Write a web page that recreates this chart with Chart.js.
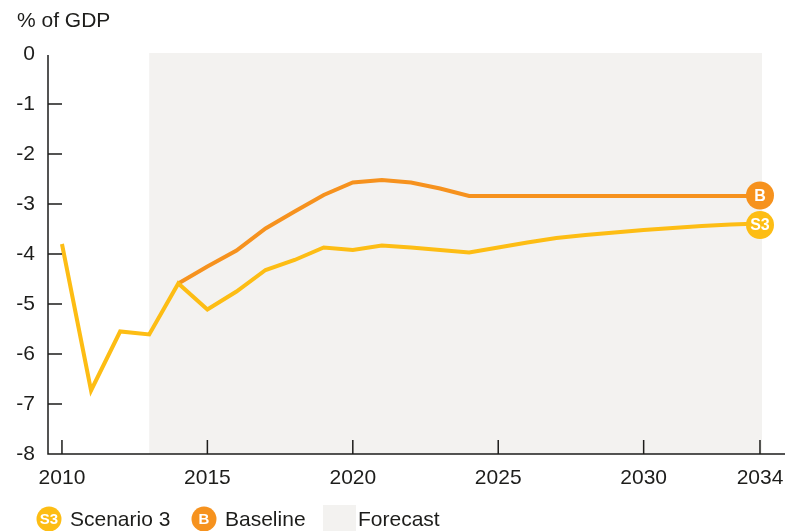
<!DOCTYPE html>
<html>
<head>
<meta charset="utf-8">
<script src="https://cdn.jsdelivr.net/npm/chart.js@4/dist/chart.umd.min.js"></script>
<style>
  body { margin: 0; background: #fff; }
  canvas { display: block; }
</style>
</head>
<body>
<canvas id="gdp-chart" width="785" height="531"></canvas>
<script>
// values (% of GDP)
const years = [2010, 2011, 2012, 2013, 2014, 2015, 2016, 2017, 2018, 2019, 2020, 2021, 2022,
               2023, 2024, 2025, 2026, 2027, 2028, 2029, 2030, 2031, 2032, 2033, 2034];
const scenario3 = [-3.80, -6.73, -5.55, -5.61, -4.59, -5.11, -4.75, -4.32, -4.12, -3.87, -3.92, -3.83, -3.87,
                   -3.92, -3.97, -3.87, -3.77, -3.68, -3.62, -3.57, -3.52, -3.48, -3.44, -3.41, -3.39];
const baseline = [null, null, null, null, -4.59, -4.25, -3.93, -3.49, -3.15, -2.82, -2.57, -2.52, -2.57,
                  -2.69, -2.84, -2.84, -2.84, -2.84, -2.84, -2.84, -2.84, -2.84, -2.84, -2.84, -2.84];
const xTicks = [2010, 2015, 2020, 2025, 2030, 2034];
const forecastStart = 2013;
const forecastEnd = 2034;

const yellow = '#FDBD14';
const orange = '#F6921E';
const shade = '#F3F2F0';
const ink = '#1d1d1b';
const fontFam = '"Liberation Sans", Arial, sans-serif';

function badge(ctx, x, y, r, color, text, size) {
    ctx.beginPath();
    ctx.arc(x, y, r, 0, Math.PI * 2);
    ctx.fillStyle = color;
    ctx.fill();
    ctx.fillStyle = '#fff';
    ctx.font = 'bold ' + size + 'px ' + fontFam;
    ctx.textAlign = 'center';
    ctx.textBaseline = 'middle';
    ctx.fillText(text, x, y + 1);
}

const decor = {
    id: 'decor',
    beforeDatasetsDraw(chart) {
        const ctx = chart.ctx, xs = chart.scales.x, a = chart.chartArea;
        ctx.save();
        ctx.fillStyle = shade;
        const x0 = xs.getPixelForValue(forecastStart), x1 = xs.getPixelForValue(forecastEnd);
        ctx.fillRect(x0, a.top - 1, x1 - x0 + 2, a.bottom - a.top + 1);
        ctx.restore();
    },
    afterDatasetsDraw(chart) {
        const ctx = chart.ctx, xs = chart.scales.x, ys = chart.scales.y, a = chart.chartArea;
        ctx.save();
        ctx.strokeStyle = ink;
        ctx.lineWidth = 1.5;
        ctx.beginPath();
        ctx.moveTo(a.left, a.top + 1);
        ctx.lineTo(a.left, a.bottom);
        ctx.lineTo(chart.width, a.bottom);
        for (let v = -7; v <= -1; v++) {
            const y = ys.getPixelForValue(v);
            ctx.moveTo(a.left, y);
            ctx.lineTo(a.left + 14, y);
        }
        xTicks.forEach(v => {
            const x = xs.getPixelForValue(v);
            ctx.moveTo(x, a.bottom);
            ctx.lineTo(x, a.bottom - 14);
        });
        ctx.stroke();

        // end-of-line badges
        const mb = chart.getDatasetMeta(1).data, ms = chart.getDatasetMeta(0).data;
        const pb = mb[mb.length - 1], ps = ms[ms.length - 1];
        badge(ctx, pb.x, pb.y - 0.5, 14, orange, 'B', 16);
        badge(ctx, ps.x, ps.y + 1.5, 14, yellow, 'S3', 16);

        // title
        ctx.fillStyle = ink;
        ctx.font = '21px ' + fontFam;
        ctx.textAlign = 'left';
        ctx.textBaseline = 'middle';
        ctx.fillText('% of GDP', 17, 21);

        // legend
        const ly = 519;
        badge(ctx, 49, ly, 12.5, yellow, 'S3', 15);
        ctx.fillStyle = ink;
        ctx.font = '21px ' + fontFam;
        ctx.textAlign = 'left';
        ctx.textBaseline = 'middle';
        ctx.fillText('Scenario 3', 70, ly + 1);
        badge(ctx, 204, ly, 12.5, orange, 'B', 15);
        ctx.fillStyle = ink;
        ctx.font = '21px ' + fontFam;
        ctx.textAlign = 'left';
        ctx.fillText('Baseline', 225, ly + 1);
        ctx.fillStyle = shade;
        ctx.fillRect(323, 505, 33, 26);
        ctx.fillStyle = ink;
        ctx.fillText('Forecast', 358, ly + 1);
        ctx.restore();
    }
};

const ctx = document.getElementById('gdp-chart').getContext('2d');
const chart = new Chart(ctx, {
    type: 'line',
    data: {
        labels: years,
        datasets: [{
            label: 'Scenario 3',
            data: years.map((y, i) => ({ x: y, y: scenario3[i] })),
            borderColor: yellow,
            borderWidth: 4,
            pointRadius: 0,
            tension: 0
        }, {
            label: 'Baseline',
            data: years.map((y, i) => ({ x: y, y: baseline[i] })),
            borderColor: orange,
            borderWidth: 4,
            pointRadius: 0,
            tension: 0
        }]
    },
    options: {
        responsive: false,
        animation: false,
        layout: { padding: { top: 54, right: 0, bottom: 0, left: 0 } },
        plugins: {
            legend: { display: false },
            tooltip: { enabled: false }
        },
        scales: {
            x: {
                type: 'linear',
                min: 2009.52,
                max: 2034.86,
                grid: { display: false, drawTicks: false },
                border: { display: false },
                afterBuildTicks: s => { s.ticks = xTicks.map(v => ({ value: v })); },
                afterFit: s => { s.height = 77; s.paddingLeft = 0; s.paddingRight = 0; },
                ticks: {
                    padding: 12,
                    maxRotation: 0,
                    autoSkip: false,
                    color: ink,
                    font: { family: fontFam, size: 21 },
                    callback: v => String(v)
                }
            },
            y: {
                min: -8,
                max: 0,
                grid: { display: false, drawTicks: false },
                border: { display: false },
                afterFit: s => { s.width = 48; s.paddingTop = 0; s.paddingBottom = 0; },
                ticks: {
                    stepSize: 1,
                    padding: 13,
                    color: ink,
                    font: { family: fontFam, size: 21 }
                }
            }
        }
    },
    plugins: [decor]
});
</script>
</body>
</html>
